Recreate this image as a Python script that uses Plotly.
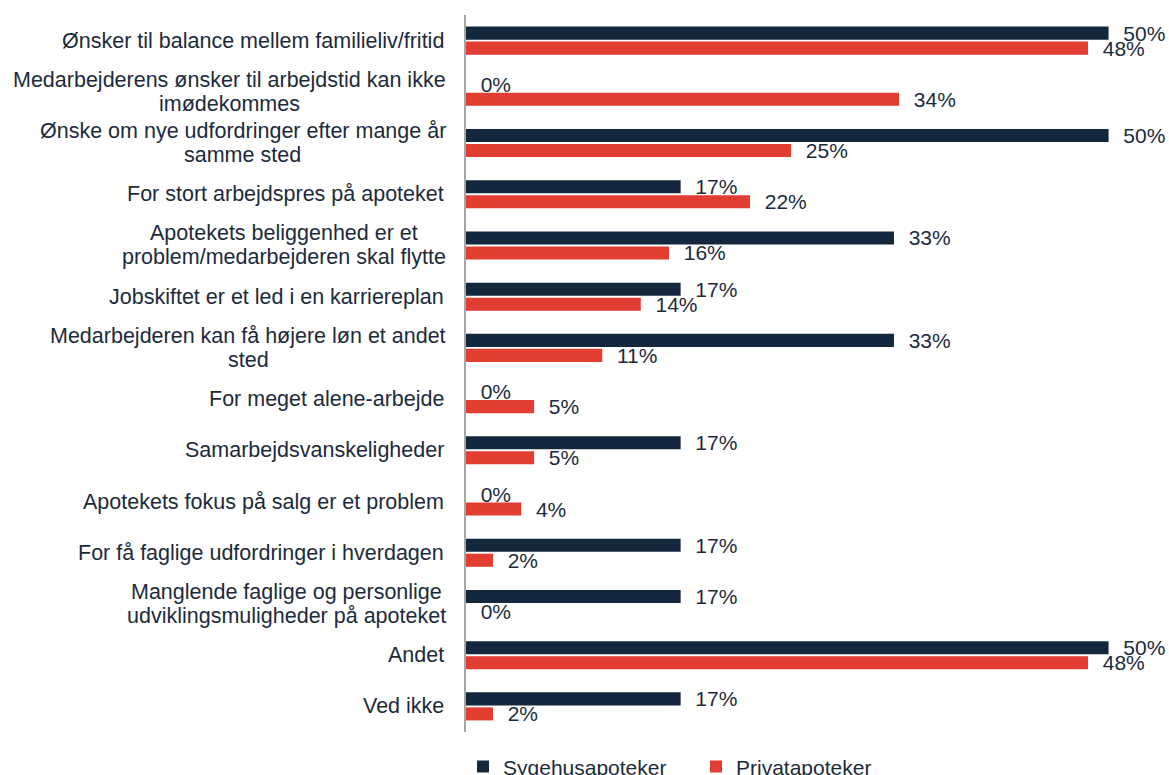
import plotly.graph_objects as go

categories = [
    "Ønsker til balance mellem familieliv/fritid",
    "Medarbejderens ønsker til arbejdstid kan ikke<br>imødekommes",
    "Ønske om nye udfordringer efter mange år<br>samme sted",
    "For stort arbejdspres på apoteket",
    "Apotekets beliggenhed er et<br>problem/medarbejderen skal flytte",
    "Jobskiftet er et led i en karriereplan",
    "Medarbejderen kan få højere løn et andet<br>sted",
    "For meget alene-arbejde",
    "Samarbejdsvanskeligheder",
    "Apotekets fokus på salg er et problem",
    "For få faglige udfordringer i hverdagen",
    "Manglende faglige og personlige<br>udviklingsmuligheder på apoteket",
    "Andet",
    "Ved ikke",
]
sygehus = [50, 0, 50, 16.7, 33.3, 16.7, 33.3, 0, 16.7, 0, 16.7, 16.7, 50, 16.7]
privat = [48.4, 33.7, 25.3, 22.1, 15.8, 13.6, 10.6, 5.3, 5.3, 4.3, 2.1, 0, 48.4, 2.1]
series_names = ["Sygehusapoteker", "Privatapoteker"]
colors = ["#13283d", "#e13d32"]
text_color = "#1c2b3c"
FONT = "Liberation Sans, Arial, sans-serif"
LABEL_SIZE = 21.5
VALUE_SIZE = 21
LINE_GAP = 24

# Arial / Liberation Sans advance widths (per 1000 em) for centering wrapped labels
W = {" ": 278, "/": 278, "-": 333, "A": 667, "M": 833, "Ø": 778, "F": 611, "J": 500,
     "S": 667, "V": 667, "a": 556, "b": 556, "c": 500, "d": 556, "e": 556, "f": 278,
     "g": 556, "h": 556, "i": 222, "j": 222, "k": 500, "l": 222, "m": 833, "n": 556,
     "o": 556, "p": 556, "r": 333, "s": 500, "t": 278, "u": 556, "v": 500, "y": 500,
     "ø": 611, "å": 556}


def text_width(s, size):
    return sum(W.get(ch, 556) for ch in s) * size / 1000.0


ids = list(range(len(categories)))

fig = go.Figure()
for name, vals, col in zip(series_names, [sygehus, privat], colors):
    fig.add_trace(go.Bar(
        y=ids, x=vals, name=name, orientation="h",
        marker=dict(color=col, line=dict(width=0)),
        text=[f"\u00a0\u00a0{v:.0f}%" for v in vals],
        textposition="outside", cliponaxis=False, constraintext="none",
        textfont=dict(family=FONT, size=VALUE_SIZE, color=text_color),
    ))

for i, c in enumerate(categories):
    lines = c.split("<br>")
    if len(lines) == 1:
        fig.add_annotation(
            x=0, xref="paper", xshift=-20, y=i, yref="y",
            text=c, showarrow=False, xanchor="right", yanchor="middle",
            font=dict(family=FONT, size=LABEL_SIZE, color=text_color),
        )
    else:
        block = max(text_width(l, LABEL_SIZE) for l in lines)
        n = len(lines)
        for k, l in enumerate(lines):
            fig.add_annotation(
                x=0, xref="paper", xshift=-20 - block / 2, y=i, yref="y",
                yshift=((n - 1) / 2 - k) * LINE_GAP,
                text=l, showarrow=False, xanchor="center", yanchor="middle",
                font=dict(family=FONT, size=LABEL_SIZE, color=text_color),
            )

fig.update_layout(
    width=1169, height=775,
    margin=dict(l=466, r=9, t=15, b=43, autoexpand=False),
    plot_bgcolor="white", paper_bgcolor="white",
    barmode="group", bargap=0.414, bargroupgap=0.13,
    showlegend=True,
    legend=dict(
        orientation="h", x=-0.0043, y=-0.02, xanchor="left", yanchor="top",
        font=dict(family=FONT, size=21, color=text_color),
        itemwidth=30, entrywidth=188, traceorder="normal",
    ),
    xaxis=dict(range=[0, 54], showgrid=False, showticklabels=False,
               zeroline=False, showline=False),
    yaxis=dict(range=[13.5, -0.5], showgrid=False, showticklabels=False,
               zeroline=False, showline=True, linewidth=2, linecolor="#a6a6a6",
               ticks=""),
)

fig.write_html(
    "out.html",
    config={"displayModeBar": False},
    post_script="document.body.style.margin='0px';document.body.style.overflow='hidden';",
)
